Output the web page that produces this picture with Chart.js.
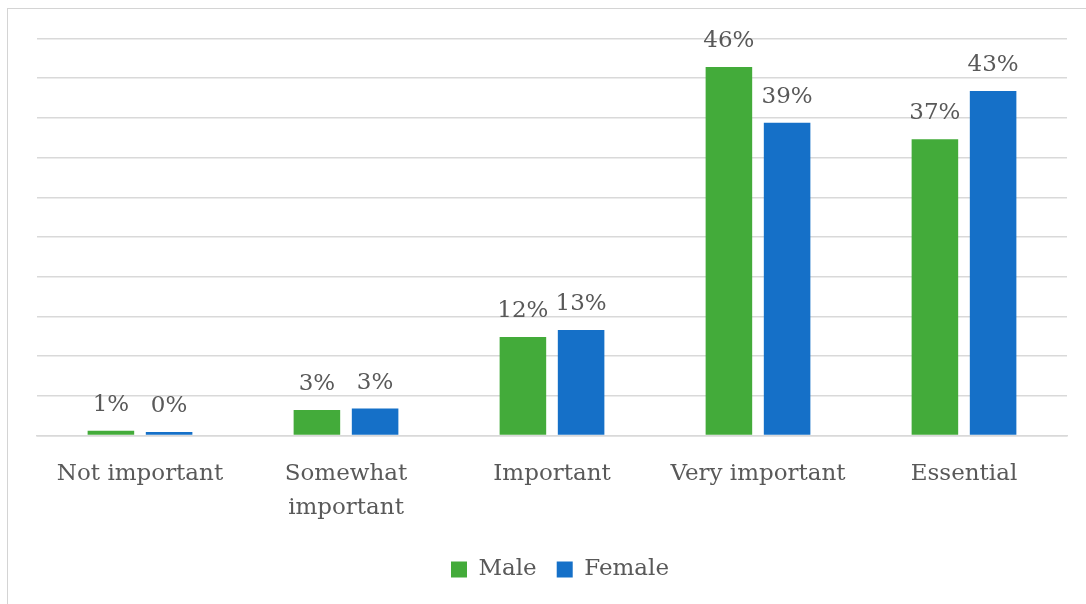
<!DOCTYPE html>
<html>
<head>
<meta charset="utf-8">
<script src="https://cdn.jsdelivr.net/npm/chart.js@4"></script>
<style>
  html, body { margin: 0; padding: 0; background: #fff; overflow: hidden; }
  #frame { position: absolute; left: 7px; top: 8px; width: 1200px; height: 700px; border: 1.5px solid #d4d4d4; }
  #wrap { position: absolute; left: 0; top: 0; width: 1086px; height: 604px; }
</style>
</head>
<body>
<div id="frame"></div>
<div id="wrap"><canvas id="grafico" width="1086" height="604"></canvas></div>
<script>
// datos (porcentajes)
const categorias = ['Not important', ['Somewhat', 'important'], 'Important', 'Very important', 'Essential'];
const hombres = [0.6, 3.2, 12.4, 46.4, 37.3];
const mujeres = [0.45, 3.4, 13.3, 39.4, 43.4];
const series = ['Male', 'Female'];

const gris = '#595959';
const fuente = 'DejaVu Serif';

// etiquetas encima de cada barra
const etiquetas = {
    id: 'etiquetas',
    afterLayout(chart) {
        // la leyenda del original esta un poco a la derecha
        chart.legend.left += 8;
        chart.legend.right += 8;
    },
    afterDatasetsDraw(chart) {
        const ctx = chart.ctx;
        ctx.save();
        ctx.font = '23px "' + fuente + '"';
        ctx.fillStyle = gris;
        ctx.textAlign = 'center';
        ctx.textBaseline = 'alphabetic';
        chart.data.datasets.forEach((ds, i) => {
            chart.getDatasetMeta(i).data.forEach((bar, j) => {
                ctx.fillText(Math.round(ds.data[j]) + '%', bar.x, bar.y - 20);
            });
        });
        ctx.restore();
    }
};

new Chart(document.getElementById('grafico').getContext('2d'), {
    type: 'bar',
    data: {
        labels: categorias,
        datasets: [
            { label: series[0], data: hombres, backgroundColor: '#43ab3a' },
            { label: series[1], data: mujeres, backgroundColor: '#1570c8' }
        ]
    },
    options: {
        responsive: false,
        animation: false,
        devicePixelRatio: 1,
        categoryPercentage: 0.565,
        barPercentage: 0.8,
        layout: { padding: { left: 37, right: 19, top: 38.5, bottom: 13 } },
        plugins: {
            legend: {
                position: 'bottom',
                labels: { boxWidth: 16, boxHeight: 16, padding: 20, color: gris, font: { family: fuente, size: 23 } }
            },
            tooltip: { enabled: false }
        },
        scales: {
            x: {
                grid: { display: false, drawTicks: false },
                border: { display: true, color: '#d9d9d9', width: 1.5 },
                ticks: { color: gris, padding: 21, maxRotation: 0, autoSkip: false, font: { family: fuente, size: 23, lineHeight: 1.5 } },
                afterFit: s => { s.height = 102.5; }
            },
            y: {
                min: 0, max: 50,
                ticks: { display: false, stepSize: 5 },
                grid: { color: '#d9d9d9', lineWidth: 1.5, drawTicks: false },
                border: { display: false },
                afterFit: s => { s.width = 0; }
            }
        }
    },
    plugins: [etiquetas]
});
</script>
</body>
</html>
